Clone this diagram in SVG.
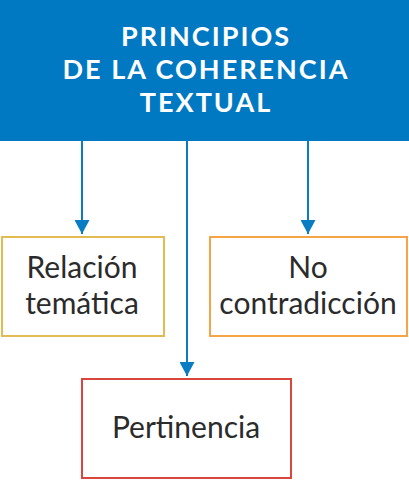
<svg xmlns="http://www.w3.org/2000/svg" width="409" height="480" viewBox="0 0 409 480">
<style>
.title{font-family:Lato,"Open Sans","Liberation Sans",sans-serif;font-weight:bold;font-size:27px;fill:#ffffff;text-anchor:middle;letter-spacing:2px}
.lbl{font-family:Lato,"Open Sans","Liberation Sans",sans-serif;font-size:30px;fill:#2b2b2b;text-anchor:middle}
.box{fill:#ffffff;stroke-width:2}
.conn{stroke:#0a7cc4;stroke-width:2;fill:none}
</style>
<defs>
<marker id="ah" viewBox="0 0 14 15" refX="14" refY="7.5" markerWidth="14" markerHeight="15" markerUnits="userSpaceOnUse" orient="auto">
<path d="M0,0 L14,7.5 L0,15 Z" fill="#0a7cc4"/>
</marker>
</defs>
<rect width="409" height="480" fill="#ffffff"/>
<g id="node-principios">
<rect x="0" y="0" width="409" height="141" fill="#0079c2"/>
<text class="title" x="206" y="46">PRINCIPIOS</text>
<text class="title" x="206" y="79">DE LA COHERENCIA</text>
<text class="title" x="206" y="112">TEXTUAL</text>
</g>
<g id="connectors">
<line class="conn" x1="82" y1="141" x2="82" y2="234" marker-end="url(#ah)"/>
<line class="conn" x1="187" y1="141" x2="187" y2="376" marker-end="url(#ah)"/>
<line class="conn" x1="308" y1="141" x2="308" y2="234" marker-end="url(#ah)"/>
</g>
<g id="node-relacion">
<rect class="box" x="2" y="237" width="162" height="99" stroke="#e2bb52"/>
<text class="lbl" x="82" y="278">Relación</text>
<text class="lbl" x="82" y="314">temática</text>
</g>
<g id="node-contradiccion">
<rect class="box" x="210" y="237" width="197" height="99" stroke="#f6a445"/>
<text class="lbl" x="308" y="278">No</text>
<text class="lbl" x="308" y="314">contradicción</text>
</g>
<g id="node-pertinencia">
<rect class="box" x="82" y="379" width="209" height="99" stroke="#d8463d"/>
<text class="lbl" x="186" y="438">Pertinencia</text>
</g>
</svg>
